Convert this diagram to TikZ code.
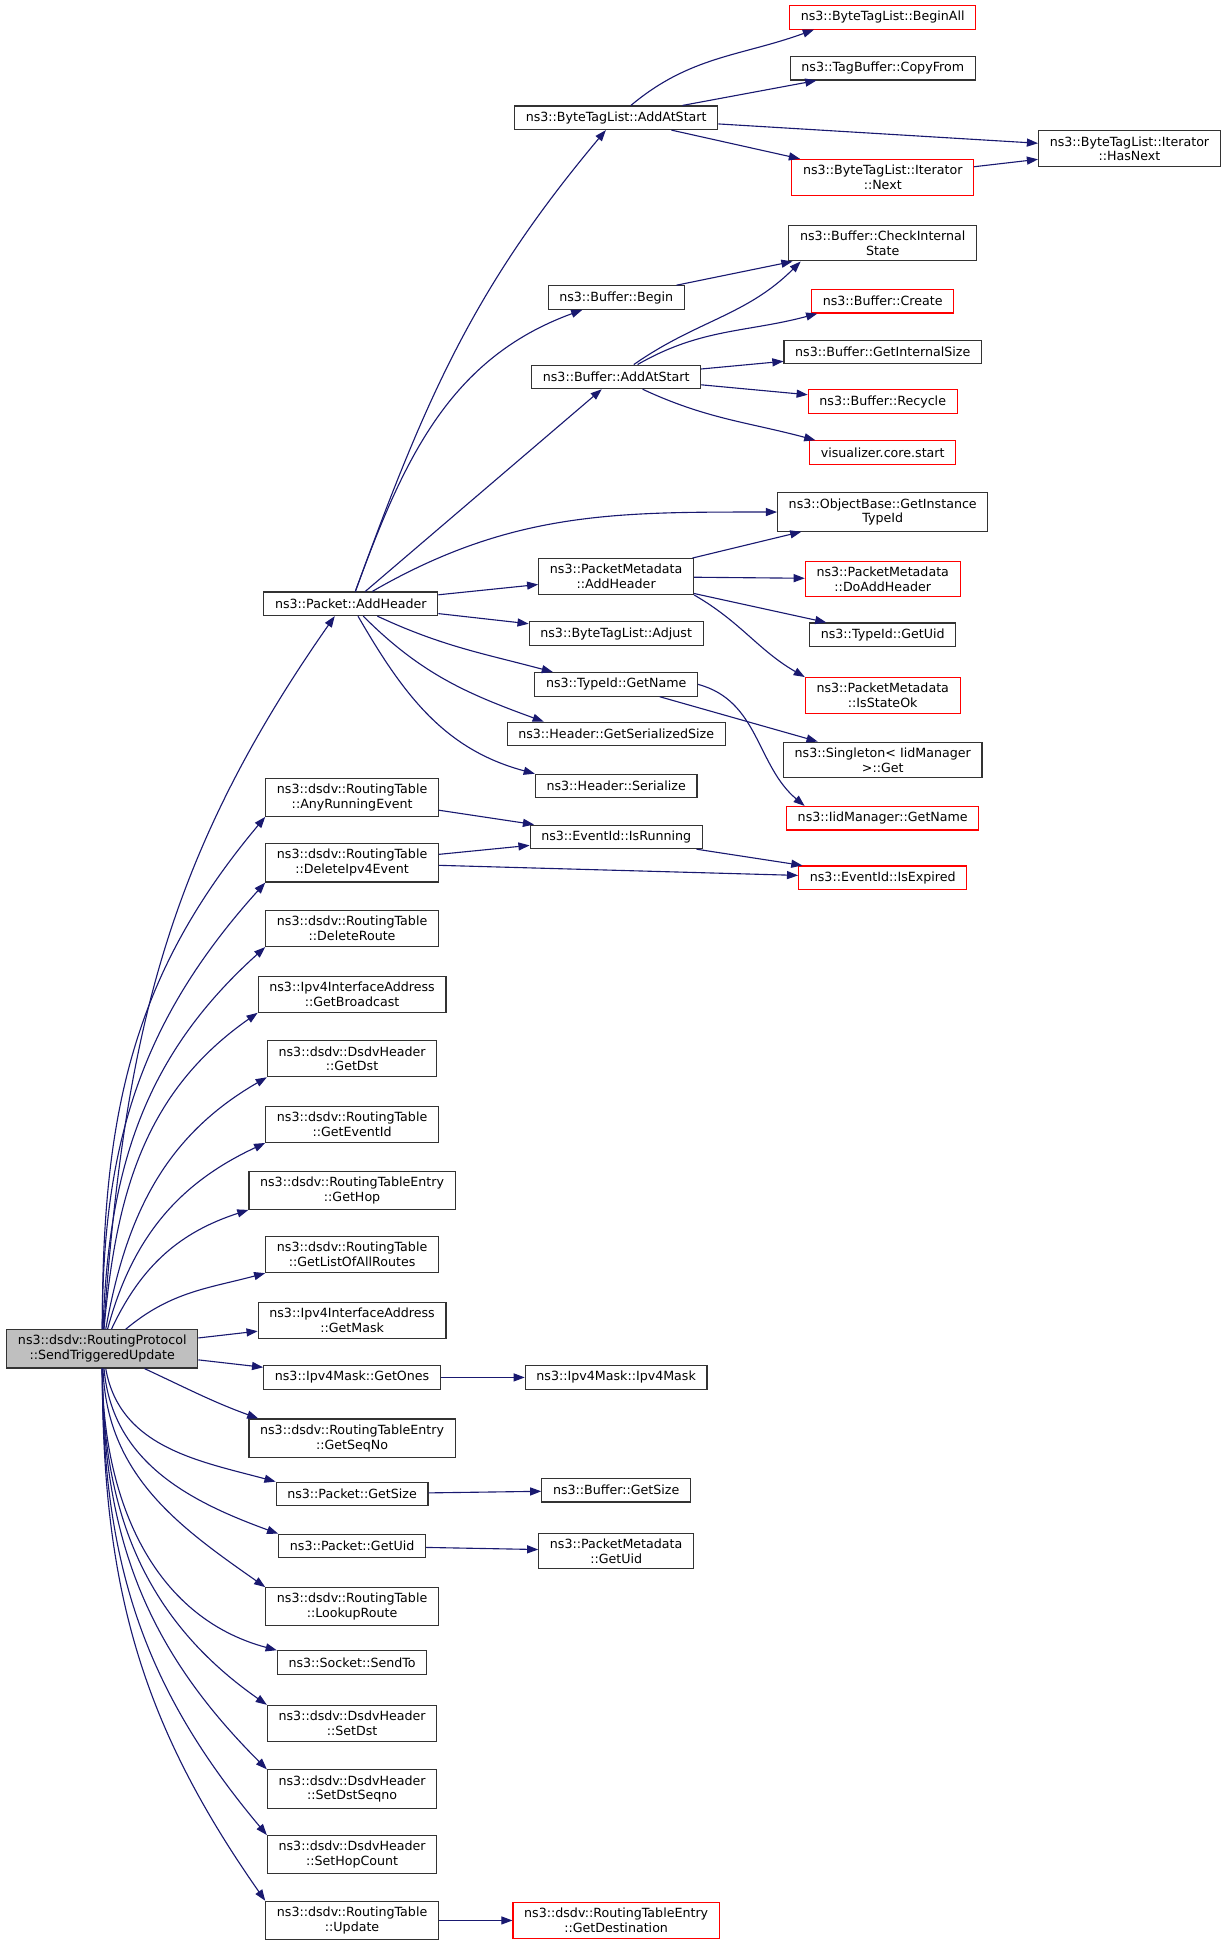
\documentclass[tikz,border=0pt]{standalone}
\usepackage{fontspec}
\setmainfont{DejaVu Sans}
\usetikzlibrary{arrows.meta}
\definecolor{edgeblue}{HTML}{191970}
\tikzset{
	fn/.style={draw=black!80, line width=0.9pt, rectangle, align=center, inner xsep=9pt, inner ysep=4.5pt, minimum height=19pt, font=\fontsize{10.2}{12}\selectfont},
	fnred/.style={fn, draw=red},
	call/.style={draw=edgeblue, line width=0.9pt, -{Triangle[length=9pt,width=6.5pt]}},
}

\begin{document}
\begin{tikzpicture}[x=1pt, y=-1pt]
	\useasboundingbox (0,0) rectangle (990,1568);
	\node[fn, fill=black!25] (main) at (82.5,1088) {ns3::dsdv::RoutingProtocol\\::SendTriggeredUpdate};

	\node[fn] (pktaddhdr) at (283,487) {ns3::Packet::AddHeader};
	\node[fn] (anyrun) at (284,643) {ns3::dsdv::RoutingTable\\::AnyRunningEvent};
	\node[fn] (delv4) at (284,696) {ns3::dsdv::RoutingTable\\::DeleteIpv4Event};
	\node[fn] (delroute) at (284,749) {ns3::dsdv::RoutingTable\\::DeleteRoute};
	\node[fn] (getbcast) at (284,802) {ns3::Ipv4InterfaceAddress\\::GetBroadcast};
	\node[fn] (getdst) at (284,854) {ns3::dsdv::DsdvHeader\\::GetDst};
	\node[fn] (geteventid) at (284,907) {ns3::dsdv::RoutingTable\\::GetEventId};
	\node[fn] (gethop) at (284,960) {ns3::dsdv::RoutingTableEntry\\::GetHop};
	\node[fn] (getall) at (284,1012) {ns3::dsdv::RoutingTable\\::GetListOfAllRoutes};
	\node[fn] (getmask) at (284,1065) {ns3::Ipv4InterfaceAddress\\::GetMask};
	\node[fn] (getones) at (284,1111) {ns3::Ipv4Mask::GetOnes};
	\node[fn] (getseqno) at (284,1160) {ns3::dsdv::RoutingTableEntry\\::GetSeqNo};
	\node[fn] (pktsize) at (284,1205) {ns3::Packet::GetSize};
	\node[fn] (pktuid) at (284,1247) {ns3::Packet::GetUid};
	\node[fn] (lookup) at (284,1296) {ns3::dsdv::RoutingTable\\::LookupRoute};
	\node[fn] (sendto) at (284,1341) {ns3::Socket::SendTo};
	\node[fn] (setdst) at (284,1390) {ns3::dsdv::DsdvHeader\\::SetDst};
	\node[fn] (setseqno) at (284,1443) {ns3::dsdv::DsdvHeader\\::SetDstSeqno};
	\node[fn] (sethop) at (284,1496) {ns3::dsdv::DsdvHeader\\::SetHopCount};
	\node[fn] (update) at (284,1549) {ns3::dsdv::RoutingTable\\::Update};

	\node[fn] (btladd) at (497,95) {ns3::ByteTagList::AddAtStart};
	\node[fn] (bufbegin) at (497,240) {ns3::Buffer::Begin};
	\node[fn] (bufadd) at (497,304) {ns3::Buffer::AddAtStart};
	\node[fn] (pmaddhdr) at (497,465) {ns3::PacketMetadata\\::AddHeader};
	\node[fn] (btladjust) at (497,511) {ns3::ByteTagList::Adjust};
	\node[fn] (tidname) at (497,552) {ns3::TypeId::GetName};
	\node[fn] (gsersize) at (497,592) {ns3::Header::GetSerializedSize};
	\node[fn] (serialize) at (497,634) {ns3::Header::Serialize};
	\node[fn] (isrunning) at (497,675) {ns3::EventId::IsRunning};
	\node[fn] (maskctor) at (497,1111) {ns3::Ipv4Mask::Ipv4Mask};
	\node[fn] (bufsize) at (497,1202) {ns3::Buffer::GetSize};
	\node[fn] (pmuid) at (497,1251) {ns3::PacketMetadata\\::GetUid};
	\node[fnred] (getdest) at (497,1549) {ns3::dsdv::RoutingTableEntry\\::GetDestination};

	\node[fnred] (beginall) at (712,14) {ns3::ByteTagList::BeginAll};
	\node[fn] (copyfrom) at (712,55) {ns3::TagBuffer::CopyFrom};
	\node[fnred] (itnext) at (712,143) {ns3::ByteTagList::Iterator\\::Next};
	\node[fn] (checkstate) at (712,196) {ns3::Buffer::CheckInternal\\State};
	\node[fnred] (bufcreate) at (712,243) {ns3::Buffer::Create};
	\node[fn] (internalsize) at (712,284) {ns3::Buffer::GetInternalSize};
	\node[fnred] (recycle) at (712,324) {ns3::Buffer::Recycle};
	\node[fnred] (vizstart) at (712,365) {visualizer.core.start};
	\node[fn] (instancetid) at (712,413) {ns3::ObjectBase::GetInstance\\TypeId};
	\node[fnred] (doaddhdr) at (712,467) {ns3::PacketMetadata\\::DoAddHeader};
	\node[fn] (tiduid) at (712,512) {ns3::TypeId::GetUid};
	\node[fnred] (isstateok) at (712,561) {ns3::PacketMetadata\\::IsStateOk};
	\node[fn] (singleton) at (712,613) {ns3::Singleton< IidManager\\ >::Get};
	\node[fnred] (iidname) at (712,660) {ns3::IidManager::GetName};
	\node[fnred] (isexpired) at (712,708) {ns3::EventId::IsExpired};

	\node[fn] (hasnext) at (911,120) {ns3::ByteTagList::Iterator\\::HasNext};

	\draw[call] (main) to[out=86, in=235] ([xshift=-13]pktaddhdr.south);
	\draw[call] (main) to[out=90, in=230] (anyrun.south west);
	\draw[call] (main) to[out=90, in=228] (delv4.south west);
	\draw[call] (main) to[out=88, in=222] (delroute.south west);
	\draw[call] (main) to[out=85, in=215] (getbcast.south west);
	\draw[call] (main) to[out=80, in=210] (getdst.south west);
	\draw[call] (main) to[out=75, in=205] (geteventid.south west);
	\draw[call] (main) to[out=65, in=198] (gethop.south west);
	\draw[call] (main) to[out=40, in=195] (getall.south west);
	\draw[call] (main) -- (getmask);
	\draw[call] (main) -- (getones);
	\draw[call] (main) to[out=-25, in=160] ([xshift=8]getseqno.north west);
	\draw[call] (main) to[out=-80, in=165] (pktsize.north west);
	\draw[call] (main) to[out=-85, in=160] (pktuid.north west);
	\draw[call] (main) to[out=-88, in=145] (lookup.north west);
	\draw[call] (main) to[out=-90, in=165] (sendto.north west);
	\draw[call] (main) to[out=-90, in=145] (setdst.north west);
	\draw[call] (main) to[out=-90, in=135] (setseqno.north west);
	\draw[call] (main) to[out=-90, in=130] (sethop.north west);
	\draw[call] (main) to[out=-90, in=125] (update.north west);

	\draw[call] (pktaddhdr) to[out=70, in=230] (btladd);
	\draw[call] (pktaddhdr) to[out=70, in=200] (bufbegin);
	\draw[call] (pktaddhdr) -- (bufadd);
	\draw[call] (pktaddhdr) to[out=30, in=180] (instancetid);
	\draw[call] (pktaddhdr) -- (pmaddhdr);
	\draw[call] (pktaddhdr) -- (btladjust);
	\draw[call] (pktaddhdr) to[out=-25, in=165] ([xshift=15]tidname.north west);
	\draw[call] (pktaddhdr) to[out=-45, in=160] ([xshift=30]gsersize.north west);
	\draw[call] (pktaddhdr) to[out=-60, in=165] (serialize.north west);

	\draw[call] (btladd) to[out=40, in=200] ([xshift=20]beginall.south west);
	\draw[call] (btladd) -- (copyfrom);
	\draw[call] (btladd) -- (hasnext);
	\draw[call] (btladd) -- (itnext);
	\draw[call] (itnext) -- (hasnext);

	\draw[call] (bufbegin) -- (checkstate);
	\draw[call] (bufadd) to[out=35, in=225] ([xshift=10]checkstate.south west);
	\draw[call] (bufadd) to[out=30, in=195] ([xshift=5]bufcreate.south west);
	\draw[call] (bufadd) -- (internalsize);
	\draw[call] (bufadd) -- (recycle);
	\draw[call] (bufadd) to[out=-25, in=165] ([xshift=5]vizstart.north west);

	\draw[call] (pmaddhdr) -- (instancetid);
	\draw[call] (pmaddhdr) -- (doaddhdr);
	\draw[call] (pmaddhdr) -- (tiduid);
	\draw[call] (pmaddhdr.south east) to[out=-30, in=150] (isstateok.north west);

	\draw[call] (tidname) -- (singleton);
	\draw[call] (tidname.east) to[out=-15, in=140] ([xshift=15]iidname.north west);

	\draw[call] (anyrun) -- (isrunning);
	\draw[call] (delv4) -- (isrunning);
	\draw[call] (delv4) -- (isexpired);
	\draw[call] (isrunning) -- (isexpired);

	\draw[call] (getones) -- (maskctor);
	\draw[call] (pktsize) -- (bufsize);
	\draw[call] (pktuid) -- (pmuid);
	\draw[call] (update) -- (getdest);
\end{tikzpicture}
\end{document}
